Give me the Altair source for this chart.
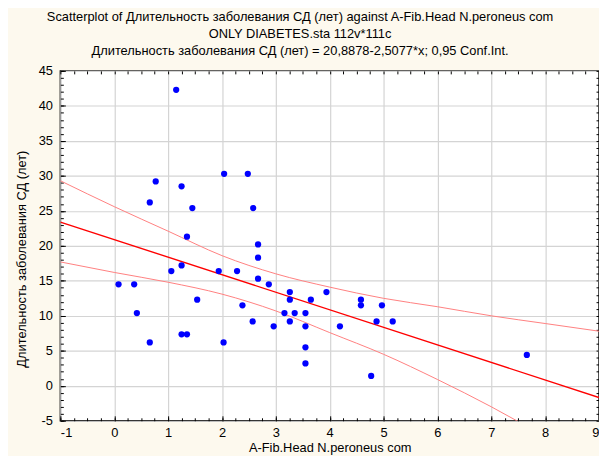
import altair as alt
import pandas as pd

# ---- data ----
fib_x = [1.15, 2.04, 2.48, 0.77, 1.25, 0.66, 1.45, 2.58, 1.35, 2.67, 2.67, 1.25,
         1.06, 1.94, 2.28, 2.67, 2.87, 0.08, 0.37, 3.26, 3.26, 3.65, 3.94, 1.54,
         2.38, 0.42, 3.16, 3.35, 3.55, 2.57, 3.26, 2.96, 3.55, 4.19, 1.25, 1.35,
         0.66, 2.03, 3.55, 3.55, 4.58, 4.58, 4.97, 4.87, 5.17, 4.77, 7.66]
dur_y = [42.3, 30.3, 30.3, 29.2, 28.5, 26.2, 25.4, 25.4, 21.3, 20.2, 18.3, 17.2,
         16.4, 16.4, 16.4, 15.3, 14.5, 14.5, 14.5, 13.4, 12.3, 12.3, 13.4, 12.3,
         11.5, 10.4, 10.4, 10.4, 10.4, 9.2, 9.2, 8.5, 8.5, 8.5, 7.35, 7.35,
         6.2, 6.2, 5.5, 3.2, 12.3, 11.5, 11.5, 9.2, 9.2, 1.4, 4.4]

fit_x = [-1, 9]
fit_y = [23.4, -1.68]

upper_x = [-1, 0, 1, 2, 3, 4, 5, 6, 7, 8, 9]
upper_y = [29.3, 25.6, 22.1, 18.6, 16.0, 14.1, 12.5, 11.3, 10.0, 8.9, 7.8]
lower_x = [-1, 0, 1, 2, 3, 4, 5, 6, 7, 8]
lower_y = [17.7, 16.2, 14.8, 13.1, 10.7, 7.6, 4.5, 0.9, -3.0, -7.3]

x_major = [-1, 0, 1, 2, 3, 4, 5, 6, 7, 8, 9]
y_major = [-5, 0, 5, 10, 15, 20, 25, 30, 35, 40, 45]
x_minor = [-1 + 0.25 * i for i in range(41)]
y_minor = list(range(-5, 46))

title_lines = [
    "Scatterplot of Длительность заболевания СД (лет) against A-Fib.Head N.peroneus com",
    "ONLY DIABETES.sta 112v*111c",
    "Длительность заболевания СД (лет) = 20,8878-2,5077*x; 0,95 Conf.Int.",
]
x_title = "A-Fib.Head N.peroneus com"
y_title = "Длительность заболевания СД (лет)"

W, H = 545, 354
FONT = "Liberation Sans"
HYPHEN_LABEL = "datum.value < 0 ? '-' + abs(datum.value) : '' + datum.value"

pts = pd.DataFrame({"x": fib_x, "y": dur_y})
fit = pd.DataFrame({"x": fit_x, "y": fit_y})
up = pd.DataFrame({"x": upper_x, "y": upper_y})
lo = pd.DataFrame({"x": lower_x, "y": lower_y})

xs = alt.Scale(domain=[-1, 9], nice=False, zero=False)
ys = alt.Scale(domain=[-5, 45], nice=False, zero=False)


def tick_axis(orient, offset, values, size):
    return alt.Axis(orient=orient, offset=offset, values=values, tickSize=size,
                    tickColor="black", tickWidth=1, labels=False, grid=False,
                    domain=False, title="")


points = alt.Chart(pts).mark_circle(size=40, color="#0000ff", opacity=1).encode(
    x=alt.X("x:Q", scale=xs, axis=alt.Axis(
        orient="bottom", values=x_major, grid=True, gridColor="#d4d4d4", gridWidth=1.2,
        ticks=False, tickSize=0, domain=False, labelPadding=6, labelFontSize=13,
        labelFont=FONT, labelColor="black", labelExpr=HYPHEN_LABEL,
        title=x_title, titleFont=FONT,
        titleFontSize=13, titleFontWeight="normal", titleColor="black",
        titleX=W / 2, titleY=27, titleBaseline="middle", titleAlign="center")),
    y=alt.Y("y:Q", scale=ys, axis=alt.Axis(
        orient="left", values=y_major, grid=True, gridColor="#d4d4d4", gridWidth=1.2,
        ticks=False, tickSize=0, domain=False, labelPadding=8, labelFontSize=13,
        labelFont=FONT, labelColor="black", labelExpr=HYPHEN_LABEL,
        title=y_title, titleFont=FONT,
        titleFontSize=13, titleFontWeight="normal", titleColor="black",
        titleAngle=270, titleX=-39, titleY=190, titleBaseline="middle",
        titleAlign="center")),
)

fit_line = alt.Chart(fit).mark_line(color="#ff0000", strokeWidth=1.4, clip=True).encode(
    x=alt.X("x:Q", scale=xs, axis=tick_axis("top", -H, x_minor, 3)),
    y=alt.Y("y:Q", scale=ys, axis=tick_axis("right", -W, y_minor, 3)),
)

upper = alt.Chart(up).mark_line(color="#ff8080", strokeWidth=1, clip=True,
                                interpolate="monotone").encode(
    x=alt.X("x:Q", scale=xs, axis=tick_axis("bottom", -H, x_minor, 3)),
    y=alt.Y("y:Q", scale=ys, axis=tick_axis("left", -W, y_minor, 3)),
)

lower = alt.Chart(lo).mark_line(color="#ff8080", strokeWidth=1, clip=True,
                                interpolate="monotone").encode(
    x=alt.X("x:Q", scale=xs, axis=tick_axis("top", -H, x_major, 5)),
    y=alt.Y("y:Q", scale=ys, axis=tick_axis("right", -W, y_major, 5)),
)

chart = (
    alt.layer(lower, upper, fit_line, points)
    .resolve_axis(x="independent", y="independent")
    .properties(
        width=W,
        height=H,
        autosize=alt.AutoSizeParams(type="none"),
        padding={"left": 53, "top": 61, "right": 0, "bottom": 33},
        background="#fdf9ee",
        title=alt.TitleParams(
            text=title_lines, anchor="middle", dx=-30, dy=17, offset=11, fontSize=13,
            font=FONT, fontWeight="normal", color="black", lineHeight=17.5,
            baseline="bottom"),
    )
    .configure_view(fill="white", stroke="black", strokeWidth=1.5)
)

chart.save("out.html", embed_options={"renderer": "svg", "actions": False})
